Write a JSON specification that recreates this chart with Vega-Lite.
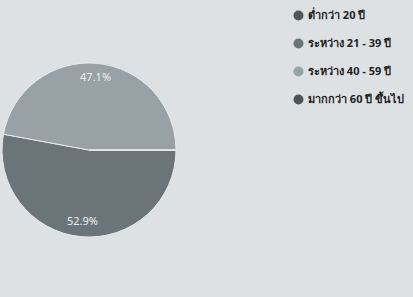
{
  "$schema": "https://vega.github.io/schema/vega-lite/v6.json",
  "width": 178,
  "height": 300,
  "autosize": {"type": "none"},
  "padding": {"left": 0, "top": 0, "right": 235, "bottom": 0},
  "background": "#dee1e3",
  "config": {"view": {"stroke": null}, "font": "Noto Sans"},
  "data": {
    "values": [
      {"group": "ต่ำกว่า 20 ปี", "value": 0, "label": ""},
      {"group": "ระหว่าง 21 - 39 ปี", "value": 52.9, "label": "52.9%"},
      {"group": "ระหว่าง 40 - 59 ปี", "value": 47.1, "label": "47.1%"},
      {"group": "มากกว่า 60 ปี ขึ้นไป", "value": 0, "label": ""}
    ]
  },
  "encoding": {
    "theta": {"field": "value", "type": "quantitative", "stack": true, "scale": {"range": [1.5708, 7.854]}},
    "order": {"field": "value", "type": "quantitative", "sort": "descending"}
  },
  "layer": [
    {
      "mark": {"type": "arc", "outerRadius": 87, "stroke": "#e8ebed", "strokeWidth": 1},
      "encoding": {
        "color": {
          "field": "group",
          "type": "nominal",
          "sort": ["ต่ำกว่า 20 ปี", "ระหว่าง 21 - 39 ปี", "ระหว่าง 40 - 59 ปี", "มากกว่า 60 ปี ขึ้นไป"],
          "scale": {"range": ["#50585c", "#6b7479", "#98a1a6", "#4c5458"]},
          "legend": {
            "title": null,
            "orient": "none",
            "legendX": 293,
            "legendY": 10,
            "symbolType": "circle",
            "symbolSize": 100,
            "symbolStrokeWidth": 0,
            "labelFontSize": 11,
            "labelFontWeight": "bold",
            "labelColor": "#1e2224",
            "rowPadding": 16,
            "labelOffset": 4,
            "labelLimit": 120
          }
        }
      }
    },
    {
      "transform": [{"filter": "datum.value > 0"}],
      "mark": {"type": "text", "radius": 72, "fontSize": 11, "color": "#eef0f2"},
      "encoding": {"text": {"field": "label"}}
    }
  ]
}
